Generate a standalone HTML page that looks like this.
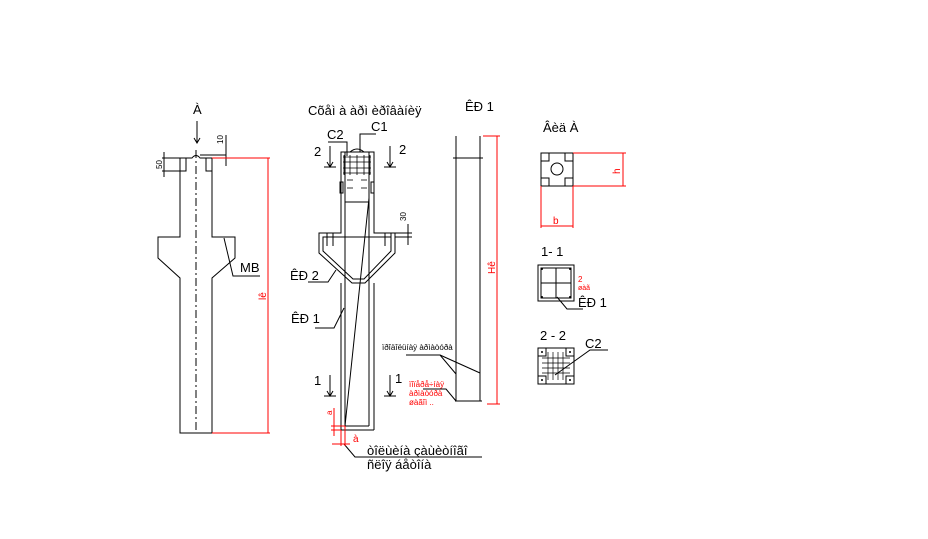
<!DOCTYPE html>
<html><head><meta charset="utf-8"><style>
html,body{margin:0;padding:0;background:#fff;width:928px;height:539px;overflow:hidden}
svg{display:block}
text{font-family:"Liberation Sans","DejaVu Sans",sans-serif}
</style></head><body>
<svg width="928" height="539" viewBox="0 0 928 539" xmlns="http://www.w3.org/2000/svg">
<g stroke="#000" stroke-width="1" fill="none">
<!-- left column -->
<path d="M180,158 V237 H158 V258 L180,278 V433 H212 V278 L235,258 V237 H212 V158"/>
<rect x="180" y="158" width="6" height="13"/>
<rect x="206" y="158" width="6" height="13"/>
<path d="M186,158 H192 Q196,153 200,158 H206"/>
<path d="M200,155 H226"/>
<line x1="196" y1="150" x2="196" y2="433" stroke-dasharray="8,3,2,3"/>
<line x1="197" y1="121" x2="197" y2="143"/><path d="M194,138 L197,143 L200,138"/>
<line x1="164" y1="152" x2="164" y2="177"/><line x1="162" y1="158" x2="180" y2="158"/><line x1="162" y1="171" x2="180" y2="171"/>
<line x1="226" y1="135" x2="226" y2="166"/>
<path d="M224,238 L233,276 H260"/>
<!-- middle column -->
<path d="M341,152 V233 H319 V253 L352,283 H365 L395,253 V233 H374 V152 Z"/>
<path d="M323,237 V251 L353,279 H364 L391,251 V237 Z"/>
<line x1="345" y1="152" x2="345" y2="426"/><line x1="369" y1="152" x2="369" y2="426"/>
<line x1="341" y1="283" x2="341" y2="430"/><line x1="374" y1="283" x2="374" y2="430"/>
<line x1="341" y1="430" x2="374" y2="430"/><line x1="345" y1="426" x2="369" y2="426"/>
<line x1="345" y1="202" x2="369" y2="202"/>
<path d="M350,152 Q357,146 364,152"/>
<g stroke-width="0.8">
<line x1="343" y1="157" x2="371" y2="157"/><line x1="343" y1="162" x2="371" y2="162"/><line x1="343" y1="168" x2="371" y2="168"/><line x1="343" y1="173" x2="371" y2="173"/>
<line x1="347" y1="180" x2="353" y2="180"/><line x1="361" y1="180" x2="367" y2="180"/>
<line x1="347" y1="188" x2="353" y2="188"/><line x1="361" y1="188" x2="367" y2="188"/>
<line x1="344" y1="155" x2="344" y2="175"/><line x1="350" y1="155" x2="350" y2="175"/><line x1="357" y1="155" x2="357" y2="175"/><line x1="364" y1="155" x2="364" y2="175"/><line x1="370" y1="155" x2="370" y2="175"/>
</g>
<rect x="340" y="182" width="3" height="11"/><rect x="371" y="182" width="3" height="11"/>
<path d="M327,233 V246 M333,233 V246 M385,233 V246 M391,233 V246"/>
<line x1="369" y1="198" x2="345" y2="426"/>
<line x1="330" y1="146" x2="330" y2="167"/><path d="M327,162 L330,167 L333,162"/><line x1="324" y1="167" x2="336" y2="167"/>
<line x1="390" y1="146" x2="390" y2="167"/><path d="M387,162 L390,167 L393,162"/><line x1="384" y1="167" x2="396" y2="167"/>
<line x1="330" y1="375" x2="330" y2="396"/><path d="M327,391 L330,396 L333,391"/><line x1="324" y1="396" x2="336" y2="396"/>
<line x1="390" y1="375" x2="390" y2="396"/><path d="M387,391 L390,396 L393,391"/><line x1="384" y1="396" x2="396" y2="396"/>
<path d="M328,142 H347 V156"/>
<path d="M376,134 H360 V152"/>
<line x1="408" y1="224" x2="408" y2="245"/><line x1="395" y1="233" x2="412" y2="233"/><line x1="395" y1="237" x2="412" y2="237"/>
<path d="M308,282 H328 L336,270"/>
<path d="M315,328 H334 L344,308"/>
<path d="M344,444 L355,457 H482"/>
<!-- third column -->
<line x1="456" y1="136" x2="456" y2="401"/><line x1="480" y1="136" x2="480" y2="401"/>
<line x1="453" y1="158" x2="483" y2="158"/><line x1="455" y1="401" x2="482" y2="401"/>
<path d="M406,355 H440 L456,374"/><path d="M440,355 L480,373"/>
<path d="M423,389 H446 L456,401"/>
<!-- right sections -->
<rect x="541" y="153" width="32" height="33"/>
<rect x="541" y="153" width="8" height="8"/><rect x="565" y="153" width="8" height="8"/><rect x="541" y="178" width="8" height="8"/><rect x="565" y="178" width="8" height="8"/>
<circle cx="557" cy="169" r="6"/>
<rect x="538" y="265" width="36" height="36"/><rect x="541" y="268" width="30" height="30"/>
<line x1="556" y1="268" x2="556" y2="298"/><line x1="541" y1="283" x2="571" y2="283"/>
<path d="M557,297 L567,309 H583"/>
<rect x="538" y="348" width="36" height="36"/>
<rect x="538" y="348" width="8" height="8"/><rect x="566" y="348" width="8" height="8"/><rect x="538" y="376" width="8" height="8"/><rect x="566" y="376" width="8" height="8"/>
<g stroke-width="0.7"><path d="M542,358 H570 M542,363 H570 M542,368 H570 M542,373 H570 M548,352 V380 M553,352 V380 M558,352 V380 M563,352 V380"/></g>
<path d="M555,375 L590,350 H608"/>
</g>
<g fill="#000"><circle cx="542" cy="269" r="1"/><circle cx="570" cy="269" r="1"/><circle cx="542" cy="297" r="1"/><circle cx="570" cy="297" r="1"/>
<circle cx="542" cy="352" r="1"/><circle cx="570" cy="352" r="1"/><circle cx="542" cy="380" r="1"/><circle cx="570" cy="380" r="1"/></g>
<!-- red dims -->
<g stroke="#f00" stroke-width="1" fill="none">
<line x1="212" y1="158" x2="270" y2="158"/><line x1="212" y1="433" x2="270" y2="433"/><line x1="268" y1="158" x2="268" y2="433"/>
<line x1="483" y1="136" x2="500" y2="136"/><line x1="487" y1="404" x2="500" y2="404"/><line x1="497" y1="136" x2="497" y2="404"/>
<line x1="573" y1="153" x2="626" y2="153"/><line x1="573" y1="186" x2="626" y2="186"/><line x1="623" y1="153" x2="623" y2="186"/>
<line x1="541" y1="186" x2="541" y2="228"/><line x1="573" y1="186" x2="573" y2="228"/><line x1="541" y1="226" x2="573" y2="226"/>
<line x1="334" y1="408" x2="334" y2="436"/><line x1="331" y1="426" x2="345" y2="426"/><line x1="331" y1="430" x2="341" y2="430"/>
<line x1="332" y1="444" x2="350" y2="444"/><line x1="341" y1="430" x2="341" y2="446"/><line x1="345" y1="426" x2="345" y2="446"/>
</g>
<!-- labels -->
<g font-size="13" fill="#000">
<text x="193" y="114">À</text>
<text x="240" y="272">MB</text>
<text x="308" y="115">Cõåì à àðì èðîâàíèÿ</text>
<text x="465" y="111">ÊÐ 1</text>
<text x="327" y="139">C2</text>
<text x="371" y="131">C1</text>
<text x="314" y="156">2</text>
<text x="399" y="154">2</text>
<text x="290" y="280">ÊÐ 2</text>
<text x="291" y="323">ÊÐ 1</text>
<text x="314" y="385">1</text>
<text x="395" y="383">1</text>
<text x="367" y="455">òîëùèíà çàùèòíîãî</text>
<text x="367" y="469">ñëîÿ áåòîíà</text>
<text x="543" y="132">Âèä À</text>
<text x="541" y="256">1-  1</text>
<text x="578" y="307">ÊÐ 1</text>
<text x="540" y="340">2 - 2</text>
<text x="585" y="348">C2</text>
</g>
<g font-size="8" fill="#000">
<text x="382" y="350">ïðîäîëüíàÿ àðìàòóðà</text>
<text transform="translate(162,169) rotate(-90)">50</text>
<text transform="translate(223,144) rotate(-90)">10</text>
<text transform="translate(406,221) rotate(-90)">30</text>
</g>
<g fill="#f00">
<text font-size="10" transform="translate(266,300) rotate(-90)">lê</text>
<text font-size="10" transform="translate(495,274) rotate(-90)">Hê</text>
<text font-size="10" x="614" y="172" transform="rotate(-90,618,170)">h</text>
<text font-size="10" x="553" y="224">b</text>
<text font-size="10" x="353" y="442">à</text>
<text font-size="8" transform="translate(332,415) rotate(-90)">a</text>
<text font-size="8" x="578" y="282">2</text>
<text font-size="7" x="578" y="290">øàã</text>
<text font-size="8" x="409" y="387">ïîïåðå÷íàÿ</text>
<text font-size="8" x="409" y="396">àðìàòóðà</text>
<text font-size="8" x="409" y="405">øàãîì ..</text>
</g>
</svg>
</body></html>
